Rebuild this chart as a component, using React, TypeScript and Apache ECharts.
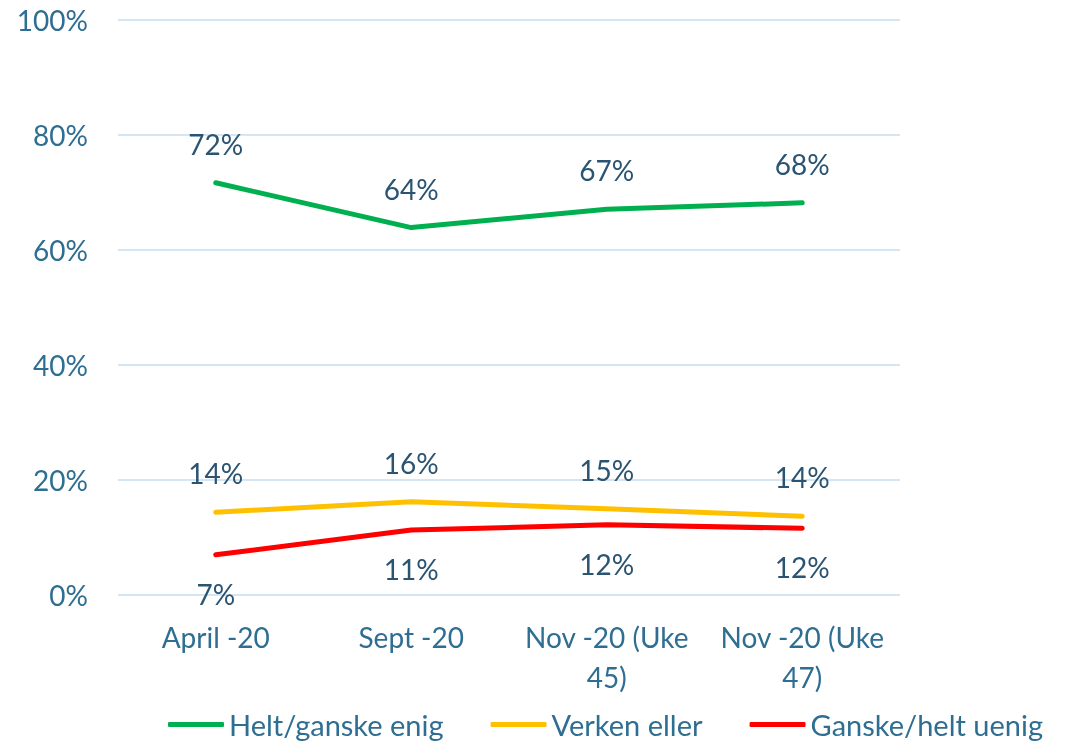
import React, { useEffect, useRef } from "react";
import * as echarts from "echarts";

const categories = ["April -20", "Sept -20", "Nov -20 (Uke\n45)", "Nov -20 (Uke\n47)"];
const seriesNames = ["Helt/ganske enig", "Verken eller", "Ganske/helt uenig"];
const enig = [71.7, 63.9, 67.1, 68.2];
const verken = [14.4, 16.2, 15.0, 13.7];
const uenig = [7.0, 11.3, 12.2, 11.6];
const yTicks = [0, 20, 40, 60, 80, 100];

const FONT = "Lato";
const FS = 28;
const AXIS_COLOR = "#2F6E93";
const LABEL_COLOR = "#2A5471";

export default function App() {
  const ref = useRef<HTMLDivElement>(null);
  useEffect(() => {
    if (!ref.current) return;
    const chart = echarts.init(ref.current, null, { renderer: "svg" });
    const mk = (name: string, data: number[], color: string, pos: "top" | "bottom") => ({
      name,
      type: "line",
      data,
      symbol: "circle",
      symbolSize: 0,
      showSymbol: true,
      lineStyle: { color, width: 5, cap: "round", join: "round" },
      itemStyle: { color },
      label: {
        show: true,
        position: pos,
        distance: 25,
        formatter: (p: any) => Math.round(p.value) + "%",
        color: LABEL_COLOR,
        fontFamily: FONT,
        fontSize: FS,
      },
    });
    chart.setOption({
      animation: false,
      textStyle: { fontFamily: FONT },
      grid: { left: 118, right: 168, top: 20, bottom: 146, containLabel: false },
      legend: {
        top: 705,
        left: 163,
        itemWidth: 56,
        itemHeight: 5,
        itemGap: 47,
        textStyle: { color: AXIS_COLOR, fontSize: 29, fontFamily: FONT },
        data: seriesNames.map((n) => ({ name: n, icon: "roundRect" })),
      },
      xAxis: {
        type: "category",
        data: categories,
        boundaryGap: true,
        axisLine: { show: false },
        axisTick: { show: false },
        axisLabel: {
          color: AXIS_COLOR,
          fontSize: FS,
          fontFamily: FONT,
          lineHeight: 40,
          margin: 22,
          interval: 0,
        },
      },
      yAxis: {
        type: "value",
        min: yTicks[0],
        max: yTicks[yTicks.length - 1],
        interval: 20,
        axisLine: { show: false },
        axisTick: { show: false },
        splitLine: { lineStyle: { color: "#C9DDEE", width: 1.5 } },
        axisLabel: {
          formatter: (v: number) => v + "%",
          color: AXIS_COLOR,
          fontSize: FS,
          fontFamily: FONT,
          margin: 30,
        },
      },
      series: [
        mk(seriesNames[0], enig, "#00B050", "top"),
        mk(seriesNames[1], verken, "#FFC000", "top"),
        mk(seriesNames[2], uenig, "#FF0000", "bottom"),
      ],
    });
    return () => chart.dispose();
  }, []);
  return (
    <div
      ref={ref}
      style={{ position: "fixed", left: 0, top: 0, width: 1068, height: 741 }}
    />
  );
}
